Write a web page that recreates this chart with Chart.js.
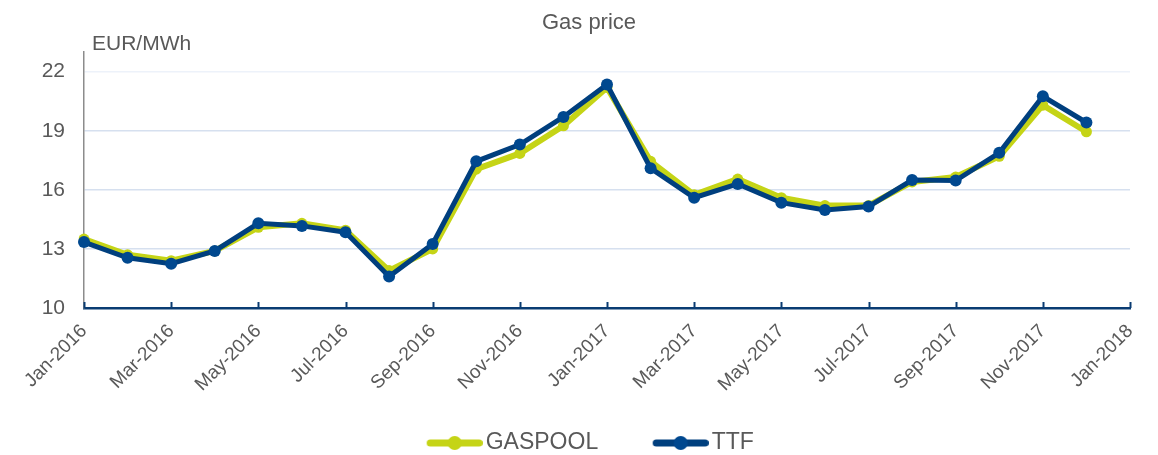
<!DOCTYPE html>
<html>
<head>
<meta charset="utf-8">
<script src="https://cdn.jsdelivr.net/npm/chart.js@4/dist/chart.umd.min.js"></script>
<style>
  html, body { margin: 0; padding: 0; background: #fff; }
  #wrap { width: 1158px; height: 455px; }
</style>
</head>
<body>
<div id="wrap"><canvas id="gas"></canvas></div>
<script>
// -- THE DATA --

const months = [
  "Jan-2016","Feb-2016","Mar-2016","Apr-2016","May-2016","Jun-2016",
  "Jul-2016","Aug-2016","Sep-2016","Oct-2016","Nov-2016","Dec-2016",
  "Jan-2017","Feb-2017","Mar-2017","Apr-2017","May-2017","Jun-2017",
  "Jul-2017","Aug-2017","Sep-2017","Oct-2017","Nov-2017","Dec-2017",
  "Jan-2018"
];

const gaspool = [
  13.5,12.7,12.4,12.9,14.1,14.3,13.95,11.9,13.0,17.05,17.85,19.25,
  21.2,17.45,15.75,16.55,15.6,15.2,15.2,16.4,16.65,17.7,20.3,18.95
];

const ttf = [
  13.35,12.55,12.25,12.9,14.3,14.17,13.85,11.6,13.25,17.45,18.3,19.7,
  21.35,17.1,15.6,16.3,15.35,14.98,15.15,16.5,16.47,17.88,20.75,19.42
];

const yTicks = [10,13,16,19,22];

// -- COLOURS / FONT --

const lime = '#c5d416';
const navy = '#003f7e';
const navyDot = '#00488f';
const grey = '#595959';
const FONT = '"Liberation Sans", Arial, sans-serif';

// legend swatch: thick line with a dot, pushed to the right end of the image
const SW_BOX = 98;
function swatch(color, dot) {
  const c = document.createElement('canvas');
  c.width = SW_BOX + 17; c.height = 16;
  const g = c.getContext('2d');
  const x1 = c.width - 56, x2 = c.width;
  g.strokeStyle = color; g.lineWidth = 7; g.lineCap = 'round';
  g.beginPath(); g.moveTo(x1 + 3.5, 8); g.lineTo(x2 - 3.5, 8); g.stroke();
  g.fillStyle = dot;
  g.beginPath(); g.arc((x1 + x2) / 2, 8, 7, 0, Math.PI * 2); g.fill();
  return c;
}

// title, unit label above the y axis + inward tick marks on the x axis
const extras = {
  id: 'extras',
  afterDraw(chart) {
    const ctx = chart.ctx;
    const area = chart.chartArea;
    const x = chart.scales.x;
    ctx.save();
    ctx.fillStyle = grey;
    ctx.font = '22px ' + FONT;
    ctx.textAlign = 'center';
    ctx.textBaseline = 'middle';
    ctx.fillText('Gas price', 589, 23);
    ctx.font = '21px ' + FONT;
    ctx.textAlign = 'left';
    ctx.textBaseline = 'alphabetic';
    ctx.fillText('EUR/MWh', area.left + 8, area.top - 2);
    ctx.strokeStyle = '#0a3c72';
    ctx.lineWidth = 2;
    x.ticks.forEach((t, i) => {
      if (i % 2) return;
      const px = Math.round(x.getPixelForTick(i)) + 0.5;
      ctx.beginPath();
      ctx.moveTo(px, area.bottom);
      ctx.lineTo(px, area.bottom - 6);
      ctx.stroke();
    });
    ctx.restore();
  }
};

new Chart('gas', {
  type: 'line',
  data: {
    labels: months,
    datasets: [{
      label: 'GASPOOL',
      data: gaspool,
      borderColor: lime,
      backgroundColor: lime,
      pointBackgroundColor: lime,
      pointBorderColor: lime,
      borderWidth: 6,
      pointRadius: 5.5,
      pointBorderWidth: 0,
      order: 1
    }, {
      label: 'TTF',
      data: ttf,
      borderColor: navy,
      backgroundColor: navy,
      pointBackgroundColor: navyDot,
      pointBorderColor: navyDot,
      borderWidth: 5,
      pointRadius: 6,
      pointBorderWidth: 0,
      order: 0
    }]
  },
  plugins: [extras],
  options: {
    responsive: true,
    maintainAspectRatio: false,
    animation: false,
    layout: { padding: { left: 0, right: 28, top: 52, bottom: -9.5 } },
    plugins: {
      title: { display: false },
      legend: {
        position: 'bottom',
        labels: {
          color: grey,
          font: { family: FONT, size: 23 },
          usePointStyle: true,
          pointStyleWidth: SW_BOX,
          boxHeight: 16,
          padding: 4,
          generateLabels(chart) {
            return chart.data.datasets.map((d, i) => ({
              text: d.label,
              fontColor: grey,
              pointStyle: i === 0 ? swatch(lime, lime) : swatch(navy, navyDot),
              datasetIndex: i,
              hidden: false,
              lineWidth: 0,
              strokeStyle: 'transparent',
              fillStyle: 'transparent'
            }));
          }
        }
      },
      tooltip: { enabled: false }
    },
    scales: {
      x: {
        offset: false,
        grid: { display: false },
        border: { display: true, color: '#0a3c72', width: 2.5 },
        afterFit: (scale) => { scale.height = 119.5; },
        ticks: {
          autoSkip: false,
          maxRotation: 45,
          minRotation: 45,
          color: grey,
          padding: 4,
          font: { family: FONT, size: 19 },
          callback: (v, i) => (i % 2 === 0 ? months[i] : '')
        }
      },
      y: {
        min: 10,
        max: 23,
        afterBuildTicks: (scale) => { scale.ticks = yTicks.map(v => ({ value: v })); },
        afterFit: (scale) => { scale.width = 84; },
        grid: {
          color: (c) => (c.tick && c.tick.value === 22 ? '#edf2fa' : '#d6e0ef'),
          lineWidth: 1.5,
          drawTicks: false
        },
        border: { display: true, color: '#8c8c8c', width: 1.5 },
        ticks: {
          color: grey,
          padding: 19,
          font: { family: FONT, size: 21 }
        }
      }
    }
  }
});
</script>
</body>
</html>
